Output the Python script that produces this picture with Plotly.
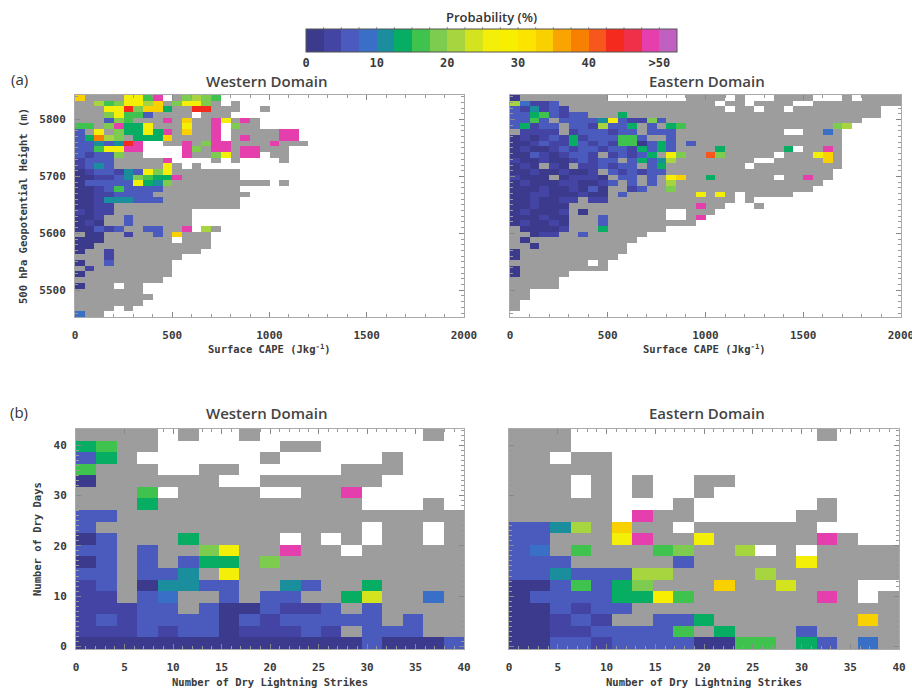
import plotly.graph_objects as go

# ---------------- data ----------------
# one character per cell: '.' = no data, 'g' = grey (no dry lightning), others = probability class
LEVELS = "0123456789abcdefhijkl"          # 21 classes of 2.5 %, last = >50 %
LEVEL_COLORS = ["#3b3a8c", "#4444a4", "#4b5bbd", "#3a6fc8", "#1b8e9e", "#06ad62", "#3fc24e",
                "#7dcb4f", "#a7d53f", "#d3e41f", "#f3ef08", "#f8ee00", "#fbe500", "#fad100",
                "#f9a400", "#f88000", "#f7561c", "#f42a1e", "#ef3048", "#e53fae", "#c060c0"]
GREY = "#9d9d9d"

cb_tickvals = [0, 10, 20, 30, 40, 50]
cb_ticktext = ["0", "10", "20", "30", "40", ">50"]

# (a) CAPE bins (J/kg) and 500 hPa height bins (m); rows listed top (5838 m) to bottom (5458 m)
cape_first, cape_step, cape_n = 25, 50, 40
hgt_first, hgt_step = 5458, 10

west_a = [
    "dggggaa6k.g7876",
    "gg867ab8dg7aa7g.g",
    "gggaai7dd5ggiiggg..g",
    "ggg7a662gggg.ggg",
    "ggg276gggkgdggkagkg",
    "66g7k55agggaggk.7gg",
    "2gag755a5kgdggk.gggggkk",
    "25f87g555dggggk.gkgggkk",
    "22424ik..ggkg7kkggggkggg",
    "226aakk....k7gkkgkkggg",
    "21227gg....kgg7agkk.gg",
    "1222gggggk....g.g....g",
    "1242gggggag.g",
    "0122142a7aggggggg",
    "0011247655kgggggg",
    "022222a547gggggggggg.g",
    "001262222gggggggg",
    "00112222gggggggggg",
    "001444222gggggggg",
    "0011ggggggggggggg",
    "1011gggggggg",
    "001gg2gggggg",
    "010gg2gggggg",
    "00212gg22ggk.8g",
    "g00gg1gg2gdggg",
    "000ggggggg.ggg",
    "00gggggggggggg",
    "0gg1ggggggggg",
    "ggg1ggggggg",
    "0gg2gggggg",
    "g1gggggggg",
    "0ggggggggg",
    "ggggggggg",
    "0ggg.gg",
    "ggggggg",
    "gggggggg",
    "ggggggg",
    "gggg.g",
    "3gg",
]

east_a = [
    "0ggggggggg........gggg.g...gggg...g.gggg",
    "83112gggggggggggggggg.gg.gggg..ggggggggg",
    "214121gggggggggggggggg.gg.gg.ggggggggg..",
    "22562122ggg5gggggggggggggggggggggggggg..",
    "2262g22224a21172" + "g" * 20 + ".....",
    "25122g2218225g2g56" + "g" * 15 + "78.....",
    "g1111g1222122g222" + "g" * 11 + "..gg3g......",
    "01012151222662gg2" + "g" * 17 + "......",
    "00121152121660252g2" + "g" * 15 + "......",
    "01001212212215252gggg5gggggg5.ggkg.......",
    "002101221g12125ga7ggh7ggggg.gggadg......",
    "10010012122g25248gggggggg..gggggdg......",
    "010g10g112122g25gggggggg.ggggggggg.......",
    "001001001g212122" + "g" * 17 + ".......",
    "1000g01110g22g2gadgg5gggggg.ggkgg.......",
    "01000110012g2g2g8" + "g" * 15 + "........",
    "0001001020gg12gg7" + "g" * 14 + ".........",
    "0011000100g2gggggggagag.ggggg...........",
    "0010011g11ggg" + "g" * 10 + ".g" + "." * 15,
    "001000g" + "g" * 12 + "kgg...g" + "." * 14,
    "010001g0" + "g" * 8 + "..ggg" + "." * 19,
    "000100ggg2" + "g" * 6 + "..gk" + "." * 20,
    "010010ggg2" + "g" * 9 + "." * 21,
    "g00001ggg5" + "g" * 6 + "." * 24,
    "gg011gg2" + "g" * 6 + "." * 26,
    "g0" + "g" * 11,
    "gg0" + "g" * 9,
    "0" + "g" * 11,
    "0" + "g" * 10,
    "gggggggg.g",
    "0" + "g" * 9,
    "0" + "g" * 5,
    "g" * 5,
    "g" * 5,
    "gg",
    "gg",
    "g",
    "g",
    "",
]

# (b) dry-lightning-strike bins and dry-day bins; rows listed top to bottom
strike_n = 19
strike_step = 40 / 19
days_first, days_step = 0.65, 2.3

west_b = [
    "gggg.g..g........g.",
    "56gg......gg.......",
    "25g......g.....g...",
    "6ggg..gg.....ggg...",
    "0gggggg..gggggg....",
    "ggg6.gggg..ggk.....",
    "ggg5gggggggggg...g.",
    "22ggggggggggggggggg",
    "2ggggggggggggg.gg.g",
    "02ggg5gggg.g.g.gg.g",
    "22g2gg7aggkgg.ggggg",
    "02g2g255g7ggggggggg",
    "22g224gaggggggggggg",
    "12g04422gg42gg5gggg",
    "11g23gg2g22gg59gg3g",
    "11122g2002112g2gggg",
    "121222202122222g2gg",
    "1112122011121g222gg",
    "0000000000000020002",
]

east_b = [
    "ggg............g...",
    "ggg................",
    "gg.gg..............",
    "ggggg..............",
    "ggg.g.g..gg........",
    "ggg.g.g..g.........",
    "ggggg...g......g...",
    "ggggg.kgg.....gg...",
    "2248gdgg.gggggg....",
    "22gggakggagggggkg..",
    "23g6ggg67gg8.g.gggg",
    "222ggggg2gggggagggg",
    "22422288gggg8gggggg",
    "0026257gggdgg9ggg..",
    "0222255b6ggggggkg.g",
    "002122ggggggggggggg",
    "00121gg225gggggggdg",
    "001122226g5ggg2gggg",
    "0022122220066g52g3g",
]


# ---------------- helpers ----------------
def decode(rows, ncols):
    rows = [r.ljust(ncols, ".")[:ncols] for r in rows][::-1]  # bottom row first
    grey = [[1 if ch == "g" else None for ch in r] for r in rows]
    prob = [[LEVELS.index(ch) * 2.5 + 1.25 if ch in LEVELS else None for ch in r] for r in rows]
    return grey, prob


colorscale = []
for i, c in enumerate(LEVEL_COLORS):
    colorscale.append([i / 21, c])
    colorscale.append([(i + 1) / 21, c])

fig = go.Figure()

panels = [
    (west_a, cape_n, cape_first, cape_step, hgt_first, hgt_step, "x", "y"),
    (east_a, cape_n, cape_first, cape_step, hgt_first, hgt_step, "x2", "y2"),
    (west_b, strike_n, strike_step / 2, strike_step, days_first, days_step, "x3", "y3"),
    (east_b, strike_n, strike_step / 2, strike_step, days_first, days_step, "x4", "y4"),
]
for rows, ncols, x0, dx, y0, dy, xa, ya in panels:
    grey, prob = decode(rows, ncols)
    fig.add_trace(go.Heatmap(z=grey, x0=x0, dx=dx, y0=y0, dy=dy, xaxis=xa, yaxis=ya,
                             colorscale=[[0, GREY], [1, GREY]], zmin=0, zmax=1,
                             showscale=False, hoverongaps=False))
    fig.add_trace(go.Heatmap(z=prob, x0=x0, dx=dx, y0=y0, dy=dy, xaxis=xa, yaxis=ya,
                             coloraxis="coloraxis", hoverongaps=False))

W, H = 912, 689
MONO = "DejaVu Sans Mono"
TICKFONT = dict(family=MONO, size=11, color="#3a3a3a", weight="bold")


def px_x(a, b):
    return [a / W, b / W]


def px_y(top, bottom):
    return [1 - bottom / H, 1 - top / H]


def ax(domain, rng, dtick, minor, tick0=0, labels=True, anchor=None, standoff=8):
    return dict(domain=domain, range=rng, dtick=dtick, tick0=tick0, showgrid=False, zeroline=False,
                showline=True, linecolor="#aaaaaa", linewidth=1, mirror="ticks",
                ticks="inside", ticklen=5, tickcolor="#888", tickwidth=1,
                minor=dict(dtick=minor, ticks="inside", ticklen=3, tickcolor="#999", showgrid=False),
                showticklabels=labels, tickfont=TICKFONT, ticklabelstandoff=standoff,
                ticklabeloverflow="allow", anchor=anchor, automargin=False)


ya_top, yb_top = px_y(95, 317), px_y(429, 649)
fig.update_layout(
    xaxis=ax(px_x(75, 464), [0, 2000], 500, 100, anchor="y"),
    yaxis=ax(ya_top, [5453, 5843], 100, 10, tick0=5500, anchor="x", standoff=6),
    xaxis2=ax(px_x(510, 901), [0, 2000], 500, 100, anchor="y2"),
    yaxis2=ax(ya_top, [5453, 5843], 100, 10, tick0=5500, labels=False, anchor="x2"),
    xaxis3=ax(px_x(76, 464), [0, 40], 5, 1, anchor="y3"),
    yaxis3=ax(yb_top, [-0.5, 43.2], 10, 1, anchor="x3", standoff=6),
    xaxis4=ax(px_x(509, 899), [0, 40], 5, 1, anchor="y4"),
    yaxis4=ax(yb_top, [-0.5, 43.2], 10, 1, labels=False, anchor="x4"),
)

CB_LEFT, CB_RIGHT, CB_TOP, CB_BOTTOM = 306, 677, 27, 50
fig.update_layout(
    width=W, height=H, margin=dict(l=0, r=0, t=0, b=0, autoexpand=False),
    paper_bgcolor="white", plot_bgcolor="white", showlegend=False,
    coloraxis=dict(
        colorscale=colorscale, cmin=0, cmax=52.5,
        colorbar=dict(orientation="h", x=(CB_LEFT + CB_RIGHT) / 2 / W, xanchor="center",
                      y=1 - (CB_TOP + CB_BOTTOM) / 2 / H, yanchor="middle",
                      len=CB_RIGHT - CB_LEFT, lenmode="pixels", thickness=CB_BOTTOM - CB_TOP,
                      thicknessmode="pixels", outlinecolor="#555", outlinewidth=1, xpad=0, ypad=0,
                      tickvals=cb_tickvals, ticktext=cb_ticktext, ticks="",
                      tickfont=dict(family=MONO, size=12, color="#3a3a3a", weight="bold"),
                      title=dict(text="Probability (%)", side="top",
                                 font=dict(family="Open Sans", size=13, color="#333", weight=600))),
    ),
)

# thin separators between the colour boxes of the colour bar
for i in range(1, len(LEVEL_COLORS)):
    xs = (CB_LEFT + (CB_RIGHT - CB_LEFT) * i / len(LEVEL_COLORS)) / W
    fig.add_shape(type="line", xref="paper", yref="paper", x0=xs, x1=xs,
                  y0=1 - CB_BOTTOM / H, y1=1 - CB_TOP / H, line=dict(color="#555", width=0.6))

TITLE_FONT = dict(family="Open Sans", size=15, color="#444", weight=600)
LABEL_FONT = dict(family=MONO, size=10.5, color="#3a3a3a", weight="bold")
ann = [
    ("(a)", 19, 79, dict(family="Open Sans", size=15, color="#333"), 0, "middle"),
    ("(b)", 19, 412, dict(family="Open Sans", size=15, color="#333"), 0, "middle"),
    ("Western Domain", 266, 81, TITLE_FONT, 0, "middle"),
    ("Eastern Domain", 707, 81, TITLE_FONT, 0, "middle"),
    ("Western Domain", 266, 413, TITLE_FONT, 0, "middle"),
    ("Eastern Domain", 707, 413, TITLE_FONT, 0, "middle"),
    ("Surface CAPE (Jkg<sup>-1</sup>)", 269, 349, LABEL_FONT, 0, "middle"),
    ("Surface CAPE (Jkg<sup>-1</sup>)", 704, 349, LABEL_FONT, 0, "middle"),
    ("Number of Dry Lightning Strikes", 270, 689, LABEL_FONT, 0, "bottom"),
    ("Number of Dry Lightning Strikes", 704, 689, LABEL_FONT, 0, "bottom"),
    ("500 hPa Geopotential Height (m)", 23, 206, LABEL_FONT, -90, "middle"),
    ("Number of Dry Days", 37, 539, LABEL_FONT, -90, "middle"),
]
for text, xp, yp, font, ang, yanc in ann:
    fig.add_annotation(text=text, x=xp / W, y=1 - yp / H, xref="paper", yref="paper",
                       showarrow=False, font=font, textangle=ang, xanchor="center", yanchor=yanc,
                       borderpad=0)

# remove the page's default body margin so the 912x689 figure fills the window exactly
fig.write_html("out.html", config={"displayModeBar": False},
               post_script="document.body.style.margin='0';document.body.style.overflow='hidden';")
